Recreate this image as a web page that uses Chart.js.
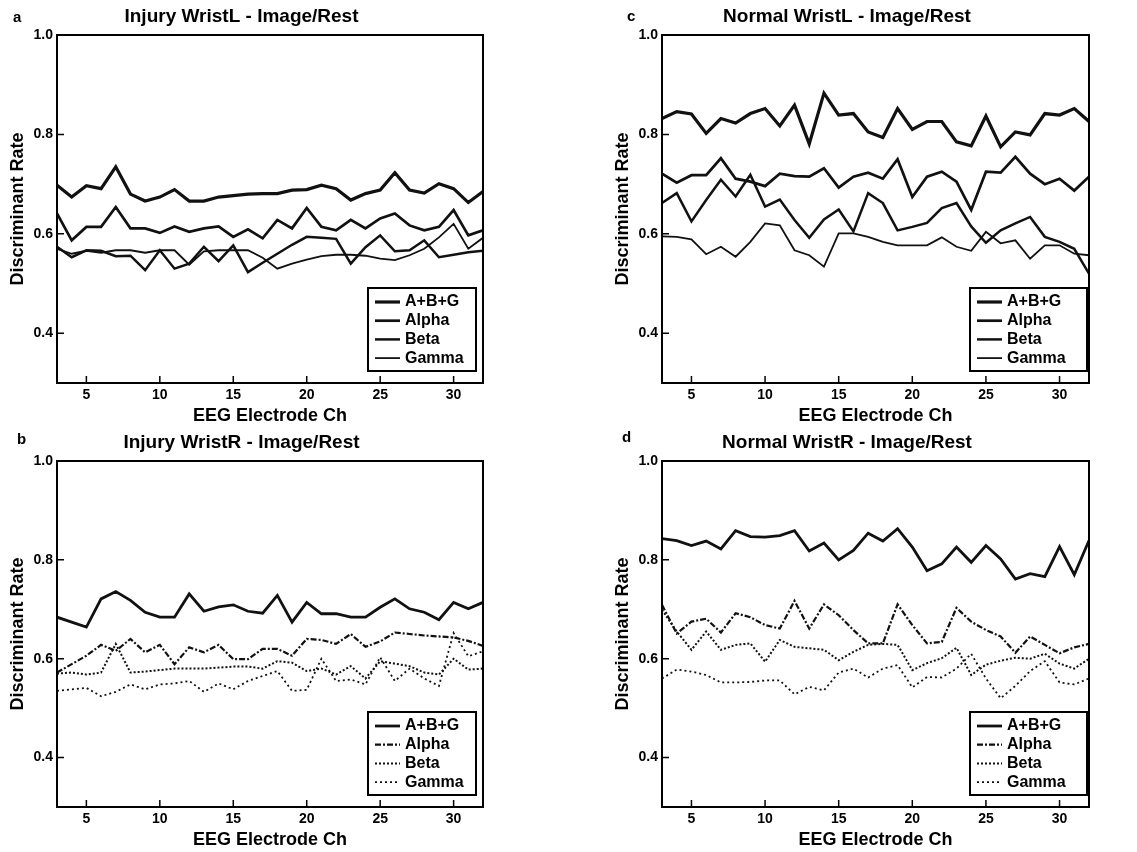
<!DOCTYPE html>
<html lang="en">
<head>
<meta charset="UTF-8">
<title>Discriminant Rate by EEG Electrode Channel</title>
<script src="https://cdn.jsdelivr.net/npm/chart.js@4.4.1/dist/chart.umd.min.js"></script>
<style>
  html, body { margin: 0; padding: 0; background: #fff; overflow: hidden; }
  body { width: 1137px; height: 852px; position: relative; }
  canvas { position: absolute; }
</style>
</head>
<body>
<canvas id="panelA" width="540" height="429" style="left:0;top:0"></canvas>
<canvas id="panelC" width="541" height="429" style="left:605px;top:0"></canvas>
<canvas id="panelB" width="540" height="427" style="left:0;top:426px"></canvas>
<canvas id="panelD" width="541" height="427" style="left:605px;top:426px"></canvas>
<script>
// EEG electrode channels on the x axis
const channels = [3,4,5,6,7,8,9,10,11,12,13,14,15,16,17,18,19,20,21,22,23,24,25,26,27,28,29,30,31,32];
const xTicks = [5, 10, 15, 20, 25, 30];
const yTicks = [0.4, 0.6, 0.8, 1.0];
const seriesNames = ['A+B+G', 'Alpha', 'Beta', 'Gamma'];

// a) Injury WristL
const injuryL_abg   = [0.698,0.674,0.697,0.691,0.735,0.680,0.666,0.674,0.689,0.666,0.666,0.674,0.677,0.680,0.681,0.681,0.688,0.689,0.698,0.691,0.668,0.681,0.688,0.723,0.688,0.682,0.701,0.691,0.663,0.685];
const injuryL_alpha = [0.641,0.587,0.614,0.614,0.654,0.611,0.611,0.602,0.615,0.604,0.611,0.615,0.594,0.609,0.591,0.628,0.611,0.652,0.614,0.607,0.628,0.611,0.631,0.641,0.617,0.607,0.614,0.648,0.597,0.607];
const injuryL_beta  = [0.574,0.553,0.567,0.566,0.555,0.556,0.527,0.567,0.530,0.540,0.574,0.545,0.577,0.523,0.542,0.560,0.578,0.594,0.592,0.590,0.540,0.573,0.597,0.565,0.567,0.587,0.553,0.558,0.563,0.566];
const injuryL_gamma = [0.570,0.560,0.566,0.562,0.567,0.567,0.562,0.567,0.567,0.538,0.565,0.567,0.567,0.567,0.552,0.530,0.540,0.548,0.555,0.558,0.558,0.556,0.550,0.547,0.557,0.570,0.593,0.620,0.570,0.592];

// b) Injury WristR
const injuryR_abg   = [0.684,0.674,0.664,0.721,0.736,0.718,0.694,0.684,0.684,0.731,0.696,0.705,0.709,0.696,0.692,0.728,0.674,0.714,0.691,0.691,0.684,0.684,0.704,0.721,0.701,0.694,0.679,0.714,0.701,0.714];
const injuryR_alpha = [0.572,0.589,0.606,0.628,0.616,0.640,0.613,0.628,0.589,0.623,0.613,0.628,0.599,0.599,0.620,0.620,0.606,0.640,0.638,0.630,0.650,0.624,0.635,0.653,0.650,0.647,0.645,0.643,0.636,0.626];
const injuryR_beta  = [0.570,0.572,0.568,0.572,0.630,0.572,0.574,0.577,0.580,0.580,0.580,0.582,0.584,0.584,0.580,0.595,0.592,0.575,0.580,0.568,0.585,0.560,0.595,0.590,0.585,0.572,0.568,0.600,0.578,0.580];
const injuryR_gamma = [0.535,0.538,0.541,0.524,0.533,0.548,0.538,0.548,0.550,0.555,0.533,0.550,0.538,0.555,0.565,0.575,0.535,0.537,0.600,0.555,0.558,0.548,0.603,0.555,0.580,0.560,0.545,0.652,0.605,0.615];

// c) Normal WristL
const normalL_abg   = [0.832,0.846,0.841,0.802,0.832,0.823,0.842,0.852,0.817,0.859,0.781,0.883,0.839,0.842,0.805,0.794,0.852,0.810,0.826,0.826,0.785,0.777,0.837,0.775,0.805,0.799,0.842,0.839,0.852,0.826];
const normalL_alpha = [0.721,0.703,0.718,0.718,0.752,0.711,0.705,0.696,0.721,0.716,0.715,0.732,0.693,0.715,0.723,0.711,0.750,0.674,0.715,0.725,0.705,0.648,0.725,0.723,0.755,0.721,0.700,0.711,0.687,0.715];
const normalL_beta  = [0.662,0.682,0.625,0.668,0.709,0.675,0.719,0.655,0.669,0.628,0.592,0.629,0.649,0.605,0.682,0.662,0.607,0.614,0.622,0.652,0.662,0.615,0.582,0.607,0.621,0.634,0.594,0.584,0.570,0.520];
const normalL_gamma = [0.595,0.594,0.589,0.559,0.574,0.554,0.584,0.621,0.617,0.567,0.557,0.534,0.601,0.601,0.594,0.584,0.577,0.577,0.577,0.593,0.574,0.566,0.604,0.581,0.587,0.550,0.577,0.577,0.560,0.557];

// d) Normal WristR
const normalR_abg   = [0.843,0.839,0.829,0.838,0.822,0.859,0.847,0.846,0.849,0.859,0.818,0.834,0.800,0.819,0.854,0.838,0.863,0.826,0.778,0.792,0.826,0.795,0.829,0.802,0.761,0.772,0.766,0.827,0.770,0.839];
const normalR_alpha = [0.709,0.651,0.675,0.681,0.653,0.692,0.684,0.668,0.661,0.717,0.661,0.710,0.688,0.658,0.631,0.631,0.710,0.668,0.631,0.634,0.703,0.675,0.658,0.645,0.612,0.645,0.628,0.611,0.623,0.630];
const normalR_beta  = [0.699,0.655,0.618,0.655,0.618,0.628,0.631,0.594,0.638,0.624,0.621,0.618,0.597,0.614,0.628,0.630,0.628,0.577,0.591,0.601,0.622,0.567,0.588,0.596,0.602,0.600,0.610,0.590,0.580,0.600];
const normalR_gamma = [0.560,0.578,0.574,0.567,0.552,0.552,0.553,0.556,0.556,0.528,0.543,0.536,0.572,0.580,0.562,0.580,0.587,0.542,0.563,0.562,0.580,0.610,0.560,0.520,0.545,0.575,0.595,0.552,0.548,0.560];

const fontFamily = '"Liberation Sans", Arial, Helvetica, sans-serif';

// solid lines for a/c, broken lines for b/d
const solidStyles = [
  { width: 3.2, dash: [] },
  { width: 2.7, dash: [] },
  { width: 2.5, dash: [] },
  { width: 1.8, dash: [] }
];
const brokenStyles = [
  { width: 2.8, dash: [] },
  { width: 2.2, dash: [6, 2, 2, 2] },
  { width: 2.0, dash: [2, 2] },
  { width: 1.8, dash: [2, 3] }
];

// box around the plot area, with inward tick marks
const frame = {
  id: 'frame',
  afterDatasetsDraw(chart) {
    const { ctx, chartArea: a, scales } = chart;
    ctx.save();
    ctx.strokeStyle = '#000';
    ctx.lineWidth = 1.5;
    ctx.beginPath();
    scales.x.ticks.forEach(t => {
      const px = scales.x.getPixelForValue(t.value);
      ctx.moveTo(px, a.bottom);
      ctx.lineTo(px, a.bottom - 7);
    });
    scales.y.ticks.forEach(t => {
      const py = scales.y.getPixelForValue(t.value);
      ctx.moveTo(a.left, py);
      ctx.lineTo(a.left + 7, py);
    });
    ctx.stroke();
    ctx.lineWidth = 2;
    ctx.strokeRect(a.left, a.top, a.right - a.left, a.bottom - a.top);
    ctx.restore();
  }
};

// legend box in the lower right corner of the plot
const boxLegend = {
  id: 'boxLegend',
  afterDraw(chart, args, opts) {
    const { ctx, chartArea } = chart;
    const w = opts.width, h = 83;
    const x = chartArea.right - opts.right - w;
    const y = chartArea.bottom - opts.bottom - h;
    ctx.save();
    ctx.fillStyle = '#fff';
    ctx.fillRect(x, y, w, h);
    ctx.strokeStyle = '#000';
    ctx.lineWidth = 2;
    ctx.strokeRect(x, y, w, h);
    ctx.font = 'bold 16px ' + fontFamily;
    ctx.textBaseline = 'middle';
    chart.data.datasets.forEach((ds, i) => {
      const cy = y + 14 + i * 18.7;
      ctx.beginPath();
      ctx.setLineDash(ds.borderDash || []);
      ctx.lineWidth = ds.borderWidth;
      ctx.strokeStyle = ds.borderColor;
      ctx.moveTo(x + 7, cy);
      ctx.lineTo(x + 32, cy);
      ctx.stroke();
      ctx.setLineDash([]);
      ctx.fillStyle = '#000';
      ctx.fillText(ds.label, x + 37, cy);
    });
    ctx.restore();
  }
};

// panel letter (a, b, c, d)
const panelLetter = {
  id: 'panelLetter',
  afterDraw(chart, args, opts) {
    const { ctx } = chart;
    ctx.save();
    ctx.font = 'bold 15px ' + fontFamily;
    ctx.fillStyle = '#000';
    ctx.textBaseline = 'middle';
    ctx.fillText(opts.text, opts.x, opts.y);
    ctx.restore();
  }
};

function makePanel(id, letter, title, values, styles, legendW, legendRight) {
  const datasets = values.map((vals, i) => ({
    label: seriesNames[i],
    data: channels.map((c, j) => ({ x: c, y: vals[j] })),
    borderColor: '#111',
    borderWidth: styles[i].width,
    borderDash: styles[i].dash,
    pointRadius: 0,
    tension: 0,
    fill: false
  }));

  new Chart(document.getElementById(id), {
    type: 'line',
    data: { datasets },
    plugins: [frame, boxLegend, panelLetter],
    options: {
      responsive: false,
      animation: false,
      devicePixelRatio: 1,
      layout: { padding: { left: 0, right: 57, top: 0, bottom: 0 } },
      plugins: {
        legend: { display: false },
        tooltip: { enabled: false },
        title: {
          display: true,
          text: title,
          color: '#000',
          font: { family: fontFamily, size: 19, weight: 'bold' },
          padding: { top: 5, bottom: 7.2 }
        },
        boxLegend: { width: legendW, right: legendRight, bottom: 12 },
        panelLetter: letter
      },
      scales: {
        x: {
          type: 'linear',
          min: 3,
          max: 32,
          afterBuildTicks: axis => { axis.ticks = xTicks.map(v => ({ value: v })); },
          afterFit: scale => { scale.height = 46; },
          grid: { display: false, drawTicks: false },
          border: { display: false },
          ticks: {
            autoSkip: false,
            maxRotation: 0,
            padding: 4,
            color: '#000',
            font: { family: fontFamily, size: 14, weight: 'bold' }
          },
          title: {
            display: true,
            text: 'EEG Electrode Ch',
            color: '#000',
            font: { family: fontFamily, size: 18, weight: 'bold' },
            padding: { top: 0, bottom: 2 }
          }
        },
        y: {
          type: 'linear',
          min: 0.3,
          max: 1.0,
          afterBuildTicks: axis => { axis.ticks = yTicks.map(v => ({ value: v })); },
          afterFit: scale => { scale.width = 57; },
          grid: { display: false, drawTicks: false },
          border: { display: false },
          ticks: {
            padding: 4,
            color: '#000',
            font: { family: fontFamily, size: 14, weight: 'bold' },
            callback: v => v.toFixed(1)
          },
          title: {
            display: true,
            text: 'Discriminant Rate',
            color: '#000',
            font: { family: fontFamily, size: 18, weight: 'bold' },
            padding: { top: 7, bottom: 0 }
          }
        }
      }
    }
  });
}

makePanel('panelA', { text: 'a', x: 13, y: 18 }, 'Injury WristL - Image/Rest',
  [injuryL_abg, injuryL_alpha, injuryL_beta, injuryL_gamma], solidStyles, 108, 7);
makePanel('panelC', { text: 'c', x: 22, y: 17 }, 'Normal WristL - Image/Rest',
  [normalL_abg, normalL_alpha, normalL_beta, normalL_gamma], solidStyles, 117, 2);
makePanel('panelB', { text: 'b', x: 17, y: 14 }, 'Injury WristR - Image/Rest',
  [injuryR_abg, injuryR_alpha, injuryR_beta, injuryR_gamma], brokenStyles, 108, 7);
makePanel('panelD', { text: 'd', x: 17, y: 12 }, 'Normal WristR - Image/Rest',
  [normalR_abg, normalR_alpha, normalR_beta, normalR_gamma], brokenStyles, 117, 2);
</script>
</body>
</html>
